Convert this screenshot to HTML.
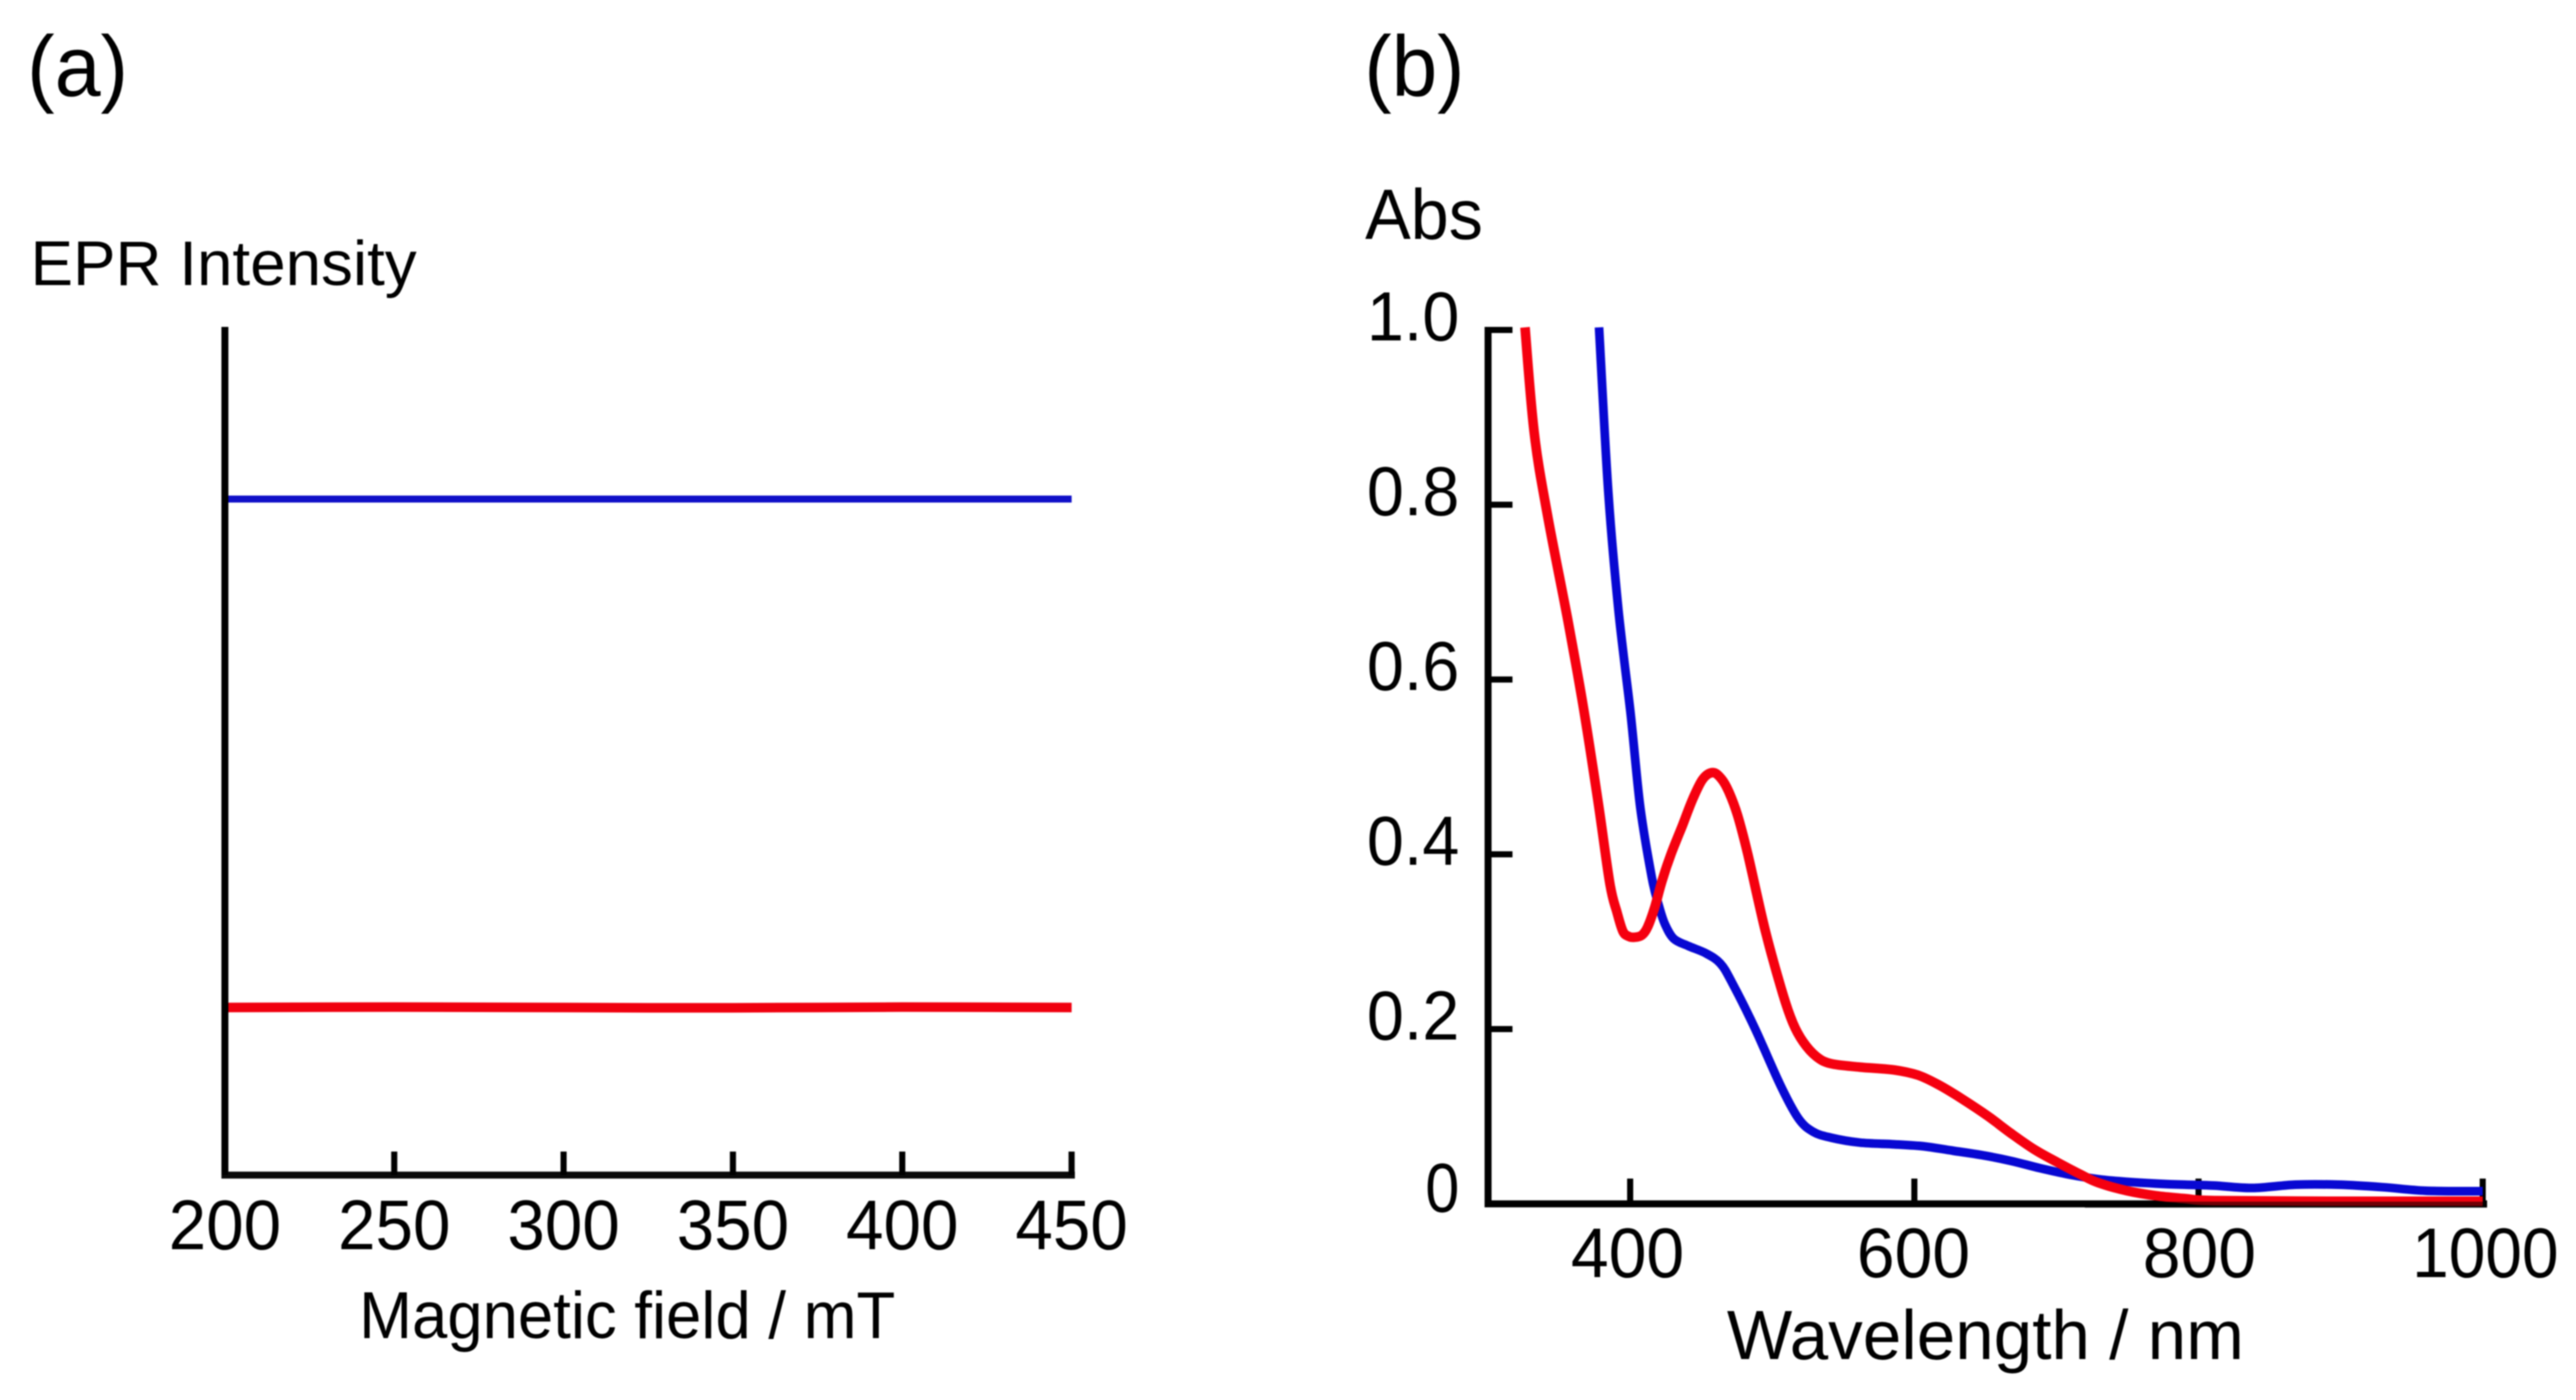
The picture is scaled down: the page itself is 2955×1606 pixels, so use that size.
<!DOCTYPE html>
<html lang="en">
<head>
<meta charset="utf-8">
<title>EPR and absorption spectra</title>
<style>
html,body{margin:0;padding:0;background:#fff;width:2955px;height:1606px;overflow:hidden}
svg{display:block;filter:blur(0.7px)}
text{font-family:"Liberation Sans",sans-serif;fill:#000}
</style>
</head>
<body>
<svg id="chart" xmlns="http://www.w3.org/2000/svg" width="2955" height="1606" viewBox="0 0 2955 1606">
  <rect width="2955" height="1606" fill="#fff"/>
  <text x="31" y="110" font-size="98" textLength="116" lengthAdjust="spacingAndGlyphs">(a)</text>
  <text x="1565" y="110" font-size="98" textLength="115" lengthAdjust="spacingAndGlyphs">(b)</text>
  <text x="35" y="327" font-size="72" textLength="443" lengthAdjust="spacingAndGlyphs">EPR Intensity</text>
  <text x="412" y="1535" font-size="76" textLength="615" lengthAdjust="spacingAndGlyphs">Magnetic field / mT</text>
  <text x="1566" y="274" font-size="82" textLength="135" lengthAdjust="spacingAndGlyphs">Abs</text>
  <text x="1981" y="1559" font-size="80" textLength="593" lengthAdjust="spacingAndGlyphs">Wavelength / nm</text>
  <g id="a-series"></g>
  <g id="a-axes"></g>
  <g id="b-axes"></g>
  <g id="b-series"></g>
  <g id="b-overlay"></g>
</svg>
<script>
// Panel (a) data
var aTicks = [200, 250, 300, 350, 400, 450];
var aField = [200, 250, 300, 350, 400, 450];
var aBlue = [79.7, 79.7, 79.7, 79.7, 79.7, 79.7];
var aRed = [19.75, 19.8, 19.75, 19.72, 19.8, 19.75];

// Panel (b) data
var bXTicks = [400, 600, 800, 1000];
var bYTicks = [0, 0.2, 0.4, 0.6, 0.8, 1.0];
var bYLabels = ['0', '0.2', '0.4', '0.6', '0.8', '1.0'];
var redNm = [326, 332.5, 341.7, 356, 367.3, 377.5, 385.7, 390.8, 394.9, 399, 403, 408.2, 412.3, 417.4, 422.5, 428.7, 436.8, 444, 451.1, 458.3, 464.4, 469.5, 475.6, 482.8, 495, 507.4, 514.5, 521.7, 530.9, 541.1, 561.5, 586, 602.5, 616.7, 633.1, 651.5, 667.9, 684.2, 700.6, 717, 729.3, 749.7, 770.1, 790.6, 811, 900, 1000];
var redAbs = [1.003, 0.882, 0.789, 0.669, 0.566, 0.4596, 0.3666, 0.3333, 0.3118, 0.306, 0.305, 0.3074, 0.3167, 0.34, 0.37, 0.4, 0.433, 0.463, 0.486, 0.4935, 0.486, 0.4713, 0.4447, 0.4, 0.3134, 0.2403, 0.2071, 0.1854, 0.1688, 0.1605, 0.1565, 0.1532, 0.1473, 0.1366, 0.1206, 0.1007, 0.0808, 0.0625, 0.0476, 0.0336, 0.0242, 0.015, 0.0093, 0.006, 0.0037, 0.003, 0.003];
var blueNm = [378.1, 384.7, 391.8, 400.4, 407.2, 415.3, 420.4, 424.5, 430.7, 440.9, 453.2, 463.4, 471.6, 487.9, 506.3, 518.6, 528.8, 541.1, 561.5, 586, 606.6, 627, 647.4, 667.9, 688.3, 708.8, 729.3, 749.7, 770.1, 790.6, 811, 838, 868, 899, 929, 960, 1000];
var blueAbs = [1.003, 0.812, 0.679, 0.5593, 0.453, 0.3732, 0.34, 0.32, 0.3034, 0.2951, 0.2868, 0.2752, 0.2535, 0.2004, 0.1339, 0.0974, 0.0825, 0.0758, 0.0701, 0.0681, 0.0658, 0.0608, 0.0558, 0.0492, 0.0409, 0.0336, 0.0282, 0.0252, 0.0232, 0.0219, 0.0209, 0.0182, 0.0219, 0.0219, 0.0192, 0.015, 0.0145];

var NS = 'http://www.w3.org/2000/svg';
function xA(f) { return 258 + (f - 200) * 3.885; }
function yA(v) { return 1348 - v * 9.73; }
function xB(nm) { return 1870 + (nm - 400) * 1.63; }
function yB(a) { return 1381 - a * 1002.5; }

function line(parent, x1, y1, x2, y2, w, color) {
  var el = document.createElementNS(NS, 'line');
  el.setAttribute('x1', x1);
  el.setAttribute('y1', y1);
  el.setAttribute('x2', x2);
  el.setAttribute('y2', y2);
  el.setAttribute('stroke', color);
  el.setAttribute('stroke-width', w);
  parent.appendChild(el);
  return el;
}
function label(parent, txt, x, y, size, len, anchor) {
  var el = document.createElementNS(NS, 'text');
  el.setAttribute('x', x);
  el.setAttribute('y', y);
  el.setAttribute('font-size', size);
  el.setAttribute('text-anchor', anchor);
  el.setAttribute('textLength', len);
  el.setAttribute('lengthAdjust', 'spacingAndGlyphs');
  el.textContent = txt;
  parent.appendChild(el);
  return el;
}
function curvePath(xs, ys) {
  var d = 'M' + xs[0].toFixed(1) + ' ' + ys[0].toFixed(1);
  for (var i = 0; i < xs.length - 1; i++) {
    var p0 = Math.max(i - 1, 0), p3 = Math.min(i + 2, xs.length - 1);
    var c1x = xs[i] + (xs[i + 1] - xs[p0]) / 6, c1y = ys[i] + (ys[i + 1] - ys[p0]) / 6;
    var c2x = xs[i + 1] - (xs[p3] - xs[i]) / 6, c2y = ys[i + 1] - (ys[p3] - ys[i]) / 6;
    d += 'C' + c1x.toFixed(1) + ' ' + c1y.toFixed(1) + ' ' + c2x.toFixed(1) + ' ' + c2y.toFixed(1) + ' ' + xs[i + 1].toFixed(1) + ' ' + ys[i + 1].toFixed(1);
  }
  return d;
}
function series(parent, xs, ys, color, w) {
  var el = document.createElementNS(NS, 'path');
  el.setAttribute('d', curvePath(xs, ys));
  el.setAttribute('fill', 'none');
  el.setAttribute('stroke', color);
  el.setAttribute('stroke-width', w);
  el.setAttribute('stroke-linejoin', 'round');
  parent.appendChild(el);
  return el;
}

// Panel (a)
var aAxes = document.getElementById('a-axes');
var aSeries = document.getElementById('a-series');
var el;
el = line(aAxes, 258, 375, 258, 1352, 8, '#000');


el = line(aAxes, 254, 1348, 1233, 1348, 8, '#0a0a0a');


aTicks.forEach(function (t) {
  var m = line(aAxes, xA(t), 1321, xA(t), 1348, 7, '#000');
  
  
  var l = label(aAxes, String(t), xA(t), 1433, 81, 129, 'middle');
  
  
});
el = series(aSeries, aField.map(xA), aBlue.map(yA), '#1010c8', 8);


el = series(aSeries, aField.map(xA), aRed.map(yA), '#f0000f', 11);



// Panel (b)
var bAxes = document.getElementById('b-axes');
var bSeries = document.getElementById('b-series');
var bOverlay = document.getElementById('b-overlay');
el = line(bAxes, 1707, 375, 1707, 1385, 8, '#000');


el = line(bAxes, 1703, 1381, 2853, 1381, 8, '#000');


bYTicks.forEach(function (v, i) {
  if (v > 0) {
    var m = line(bAxes, 1707, yB(v), 1735, yB(v), 7, '#000');
    
    
  }
  var txt = bYLabels[i];
  var l = label(bAxes, txt, 1674, yB(v) + (v > 0 ? 12 : 9), 80, txt.length > 1 ? 106 : 39, 'end');
  
  
});
bXTicks.forEach(function (t) {
  var m = line(bAxes, xB(t), 1352, xB(t), 1381, 7, '#000');
  
  
  var s = String(t);
  var l = label(bAxes, s, 1867 + (t - 400) * 1.64, 1465, 81, s.length > 3 ? 168 : 130, 'middle');
  
  
});
el = series(bSeries, blueNm.map(xB), blueAbs.map(yB), '#0808d2', 10);


el = series(bSeries, redNm.map(xB), redAbs.map(yB), '#f5000f', 11);


el = line(bOverlay, xB(720), 1382, 2853, 1382, 7, 'rgba(0,0,0,0.55)');


</script>
</body>
</html>
